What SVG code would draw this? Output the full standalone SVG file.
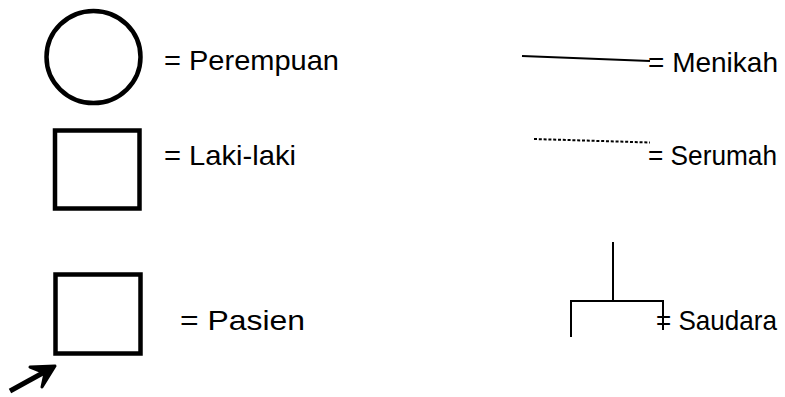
<svg xmlns="http://www.w3.org/2000/svg" width="785" height="397" viewBox="0 0 785 397">
<style>
.sym{fill:#fff;stroke:#000;stroke-width:4.5}
.ln{fill:none;stroke:#000;stroke-width:2}
.t{font-family:"Liberation Sans",Arial,sans-serif;font-size:28px;fill:#000}
</style>
<rect width="785" height="397" fill="#fff"/>
<g id="perempuan">
<ellipse class="sym" cx="93.5" cy="57" rx="47" ry="46"/>
<text class="t" x="164" y="70" textLength="175" lengthAdjust="spacingAndGlyphs">= Perempuan</text>
</g>
<g id="laki-laki">
<rect class="sym" x="55" y="130.5" width="84.5" height="78"/>
<text class="t" x="164" y="165" textLength="132" lengthAdjust="spacingAndGlyphs">= Laki-laki</text>
</g>
<g id="pasien">
<rect class="sym" x="55.5" y="274.5" width="85" height="79"/>
<text class="t" x="180" y="330" textLength="125" lengthAdjust="spacingAndGlyphs">= Pasien</text>
</g>
<g id="connectors">
<g id="menikah-line"><path class="ln" d="M522,56 L650,61"/></g>
<g id="serumah-line"><path class="ln" stroke-width="1.3" stroke-dasharray="3,1.8" d="M534,139 L650,142.5"/></g>
<g id="saudara-line"><path class="ln" d="M613,242 V301 M571,337 V301 H663 V330"/></g>
<g id="pasien-arrow"><path fill="none" stroke="#000" stroke-width="5" d="M10,391 L50,369"/><path fill="#000" stroke="#000" stroke-width="3" stroke-linejoin="round" d="M30,367 L55,366 L42,387 L45,373 Z"/></g>
</g>
<g id="menikah"><text class="t" x="648" y="72" textLength="130" lengthAdjust="spacingAndGlyphs">= Menikah</text></g>
<g id="serumah"><text class="t" x="648" y="165" textLength="129" lengthAdjust="spacingAndGlyphs">= Serumah</text></g>
<g id="saudara"><text class="t" x="656" y="330" textLength="121" lengthAdjust="spacingAndGlyphs">= Saudara</text></g>
</svg>
